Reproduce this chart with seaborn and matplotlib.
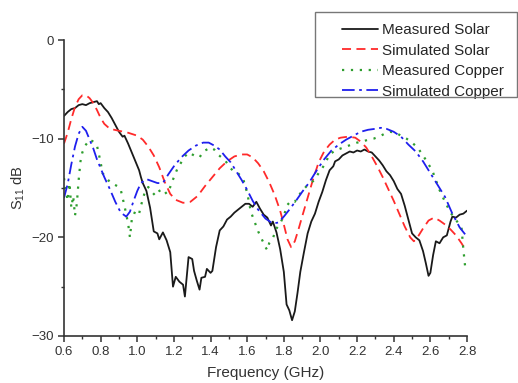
import numpy as np
import pandas as pd
import matplotlib
matplotlib.use('Agg')
import matplotlib.pyplot as plt
from matplotlib.ticker import MultipleLocator
from matplotlib.patches import Rectangle
import seaborn as sns

# Measured Solar (black solid, noisy)
ms_freq = [0.60, 0.62, 0.64, 0.66, 0.68, 0.70, 0.72, 0.74, 0.76, 0.78, 0.79, 0.80,
           0.82, 0.84, 0.86, 0.88, 0.90, 0.92, 0.93, 0.95, 0.97, 0.99, 1.01, 1.02,
           1.03, 1.05, 1.07, 1.09, 1.11, 1.12, 1.14, 1.16, 1.18, 1.195, 1.21, 1.23,
           1.25, 1.26, 1.27, 1.28, 1.30, 1.31, 1.325, 1.34, 1.35, 1.37, 1.38, 1.40,
           1.41, 1.43, 1.45, 1.47, 1.49, 1.51, 1.53, 1.55, 1.57, 1.59, 1.61, 1.63,
           1.65, 1.67, 1.69, 1.71, 1.73, 1.74, 1.76, 1.78, 1.80, 1.815, 1.83, 1.845,
           1.86, 1.875, 1.89, 1.91, 1.93, 1.95, 1.97, 1.99, 2.01, 2.03, 2.05, 2.07,
           2.08, 2.10, 2.12, 2.14, 2.16, 2.18, 2.20, 2.22, 2.24, 2.26, 2.28, 2.30,
           2.32, 2.34, 2.36, 2.38, 2.40, 2.42, 2.44, 2.46, 2.48, 2.50, 2.52, 2.54,
           2.56, 2.575, 2.59, 2.60, 2.615, 2.63, 2.65, 2.67, 2.69, 2.71, 2.72, 2.74,
           2.76, 2.78, 2.80]
ms_s11 = [-7.7, -7.3, -7.0, -6.9, -6.6, -6.5, -6.6, -6.4, -6.3, -6.2, -6.5, -6.4,
          -6.9, -7.3, -7.9, -8.6, -9.3, -9.8, -9.7, -10.5, -11.4, -12.3, -13.2, -13.9,
          -14.5, -15.3, -17.0, -19.4, -19.6, -20.2, -19.5, -20.3, -21.5, -25.0, -24.0, -24.5,
          -24.8, -26.0, -24.0, -22.0, -22.2, -23.4, -24.4, -25.3, -24.1, -24.0, -23.2, -23.6,
          -23.4, -21.0, -19.3, -18.9, -18.2, -17.9, -17.5, -17.2, -16.9, -16.6, -16.6, -16.9,
          -16.4, -17.1, -17.7, -18.0, -18.8, -18.4, -19.5, -21.2, -23.5, -26.8, -27.4, -28.4,
          -27.5, -25.6, -23.5, -21.5, -19.6, -18.4, -17.6, -16.4, -15.4, -14.2, -13.2, -12.8,
          -12.3, -12.1, -11.7, -11.5, -11.3, -11.4, -11.2, -11.3, -11.1, -11.3, -11.4, -11.8,
          -12.2, -12.7, -13.3, -13.7, -14.3, -15.1, -15.6, -16.8, -18.2, -19.6, -20.0, -20.3,
          -21.4, -22.6, -23.9, -23.6, -21.8, -20.4, -20.6, -20.0, -19.8, -18.4, -17.9, -18.0,
          -17.7, -17.6, -17.3]

# Simulated Solar (red dashed)
ss_freq = [0.60, 0.62, 0.64, 0.66, 0.68, 0.70, 0.72, 0.74, 0.76, 0.78, 0.80, 0.82,
           0.85, 0.90, 0.95, 1.00, 1.03, 1.06, 1.09, 1.12, 1.15, 1.18, 1.21, 1.25,
           1.29, 1.33, 1.37, 1.41, 1.45, 1.49, 1.53, 1.57, 1.60, 1.63, 1.66, 1.69,
           1.72, 1.75, 1.78, 1.80, 1.82, 1.84, 1.86, 1.88, 1.90, 1.93, 1.96, 1.99,
           2.02, 2.05, 2.08, 2.11, 2.15, 2.19, 2.22, 2.25, 2.28, 2.31, 2.34, 2.37,
           2.40, 2.43, 2.46, 2.49, 2.51, 2.53, 2.56, 2.59, 2.62, 2.65, 2.68, 2.71,
           2.74, 2.77, 2.79]
ss_s11 = [-10.5, -9.4, -8.0, -6.8, -6.0, -5.6, -5.6, -5.9, -6.4, -7.1, -7.9, -8.5,
          -9.0, -9.2, -9.4, -9.7, -10.1, -10.8, -11.7, -12.9, -14.4, -15.6, -16.2, -16.5,
          -16.4, -15.8, -14.8, -13.9, -13.0, -12.3, -11.8, -11.6, -11.6, -11.9, -12.5, -13.3,
          -14.4, -15.7, -17.3, -18.7, -20.2, -21.0, -20.4, -19.2, -17.9, -16.0, -14.1, -12.4,
          -11.3, -10.6, -10.1, -9.9, -9.8, -9.9, -10.3, -10.9, -11.8, -12.8, -13.9, -15.1,
          -16.3, -17.6, -18.9, -20.0, -20.4, -20.0, -19.1, -18.3, -18.0, -18.3, -18.7, -19.2,
          -19.8, -20.6, -21.2]

# Measured Copper (green dotted, noisy)
mc_freq = [0.60, 0.61, 0.62, 0.63, 0.64, 0.65, 0.66, 0.67, 0.68, 0.69, 0.70, 0.72,
           0.74, 0.76, 0.78, 0.80, 0.81, 0.83, 0.85, 0.87, 0.89, 0.91, 0.93, 0.95,
           0.96, 0.97, 0.99, 1.01, 1.02, 1.04, 1.06, 1.08, 1.10, 1.12, 1.14, 1.16,
           1.18, 1.20, 1.22, 1.24, 1.26, 1.28, 1.30, 1.32, 1.34, 1.36, 1.38, 1.40,
           1.42, 1.44, 1.46, 1.48, 1.50, 1.52, 1.54, 1.56, 1.58, 1.60, 1.62, 1.64,
           1.66, 1.68, 1.70, 1.71, 1.72, 1.74, 1.76, 1.78, 1.80, 1.82, 1.84, 1.86,
           1.88, 1.90, 1.93, 1.96, 1.99, 2.02, 2.05, 2.08, 2.11, 2.14, 2.17, 2.20,
           2.23, 2.26, 2.29, 2.32, 2.35, 2.38, 2.41, 2.44, 2.47, 2.50, 2.53, 2.56,
           2.59, 2.61, 2.63, 2.65, 2.68, 2.71, 2.73, 2.75, 2.77, 2.78, 2.79]
mc_s11 = [-14.0, -15.2, -16.3, -14.5, -17.0, -15.8, -17.8, -16.6, -14.2, -12.3, -11.4, -10.6,
          -10.1, -10.3, -10.7, -12.4, -13.5, -13.9, -14.4, -14.6, -14.8, -15.2, -16.8, -18.6,
          -20.0, -18.2, -17.3, -17.6, -16.8, -15.5, -14.9, -15.4, -15.8, -15.3, -15.1, -15.6,
          -14.9, -13.9, -13.0, -12.4, -11.8, -11.4, -11.6, -11.8, -11.9, -11.3, -11.1, -10.9,
          -11.1, -11.6, -11.9, -12.2, -12.8, -13.2, -13.3, -13.7, -14.2, -15.5, -17.4, -18.4,
          -19.4, -20.2, -21.0, -21.3, -20.6, -20.1, -19.1, -18.6, -17.8, -16.7, -16.3, -16.4,
          -15.8, -15.3, -14.7, -14.3, -13.5, -12.7, -11.6, -11.2, -11.0, -10.8, -10.6, -10.4,
          -10.3, -10.1, -10.0, -9.8, -9.5, -9.3, -9.4, -9.7, -10.0, -10.4, -10.9, -11.7,
          -12.6, -13.2, -14.2, -15.2, -16.4, -17.5, -18.0, -18.5, -19.0, -21.2, -23.0]

# Simulated Copper (blue dash-dot)
sc_freq = [0.60, 0.62, 0.64, 0.66, 0.68, 0.70, 0.72, 0.74, 0.76, 0.78, 0.80, 0.82,
           0.85, 0.88, 0.91, 0.94, 0.96, 0.98, 1.00, 1.02, 1.05, 1.08, 1.11, 1.14,
           1.17, 1.20, 1.24, 1.28, 1.32, 1.36, 1.39, 1.42, 1.45, 1.48, 1.51, 1.54,
           1.57, 1.60, 1.63, 1.66, 1.70, 1.74, 1.77, 1.80, 1.83, 1.87, 1.90, 1.94,
           1.98, 2.02, 2.06, 2.10, 2.14, 2.18, 2.22, 2.26, 2.30, 2.33, 2.36, 2.40,
           2.44, 2.48, 2.52, 2.56, 2.60, 2.64, 2.68, 2.72, 2.76, 2.79]
sc_s11 = [-16.0, -14.6, -12.6, -10.8, -9.5, -8.8, -9.2, -10.1, -11.0, -12.1, -13.0, -13.9,
          -15.1, -16.4, -17.5, -17.9, -17.4, -16.3, -15.3, -14.5, -14.1, -14.3, -14.5, -14.5,
          -13.6, -12.8, -11.9, -11.2, -10.7, -10.4, -10.4, -10.7, -11.1, -11.8, -12.4, -13.3,
          -14.2, -15.2, -16.3, -17.2, -18.1, -18.6, -18.5, -17.9, -17.2, -16.2, -15.4, -14.4,
          -13.2, -12.1, -11.2, -10.6, -10.1, -9.7, -9.3, -9.1, -9.0, -8.9, -9.0, -9.3,
          -9.8, -10.6, -11.3, -12.3, -13.5, -14.7, -15.9, -17.6, -19.0, -19.7]

series_names = ['Measured Solar', 'Simulated Solar', 'Measured Copper', 'Simulated Copper']
series_data = [(ms_freq, ms_s11), (ss_freq, ss_s11), (mc_freq, mc_s11), (sc_freq, sc_s11)]
colors = ['#1a1a1a', '#ff2a2a', '#2e9e2e', '#1f1fee']
styles = ['-', (0, (5, 3)), (0, (1, 3)), (0, (7, 2.5, 1.5, 2.5))]
widths = [1.3, 1.3, 1.6, 1.3]

sns.set_style('ticks')
plt.rcParams['font.family'] = ['Liberation Sans', 'DejaVu Sans']
plt.rcParams['mathtext.fontset'] = 'custom'
plt.rcParams['mathtext.rm'] = 'Liberation Sans'
plt.rcParams['mathtext.it'] = 'Liberation Sans'

fig = plt.figure(figsize=(5.18, 3.83), dpi=100)
ax = fig.add_axes([64 / 518, 1 - 336 / 383, (467 - 64) / 518, (336 - 40) / 383])

for name, (f, s), c, ls, lw in zip(series_names, series_data, colors, styles, widths):
    df = pd.DataFrame({'Frequency': f, 'S11': s})
    sns.lineplot(data=df, x='Frequency', y='S11', ax=ax, color=c, linestyle=ls,
                 linewidth=lw, label=name, estimator=None, sort=False)

ax.set_xlim(0.6, 2.8)
ax.set_ylim(-30, 0)
ax.xaxis.set_major_locator(MultipleLocator(0.2))
ax.xaxis.set_minor_locator(MultipleLocator(0.1))
ax.yaxis.set_major_locator(MultipleLocator(10))
ax.yaxis.set_minor_locator(MultipleLocator(5))
ax.set_xticklabels([f'{v:.1f}' for v in ax.get_xticks()])

axis_col = '#333333'
for side in ['top', 'right']:
    ax.spines[side].set_visible(False)
for side in ['left', 'bottom']:
    ax.spines[side].set_color(axis_col)
    ax.spines[side].set_linewidth(1.2)
ax.tick_params(which='major', direction='out', length=4, width=1.1, colors=axis_col,
               labelsize=9.5, pad=3)
ax.tick_params(which='minor', direction='out', length=2.5, width=1.0, colors=axis_col)

ax.set_xlabel('Frequency (GHz)', fontsize=11, color=axis_col, labelpad=6)
ax.set_ylabel('S$_{11}$ dB', fontsize=10.5, color=axis_col, labelpad=3)

# legend entries without frame, box drawn separately (it runs to the image edge)
leg = ax.legend(loc='upper left', bbox_to_anchor=(342 / 518, 1 - 23 / 383),
                bbox_transform=fig.transFigure, fontsize=11, frameon=False,
                handlelength=2.35, handletextpad=0.3, labelspacing=0.43,
                borderpad=0, borderaxespad=0)
fig.add_artist(Rectangle((315 / 518, 1 - 97 / 383), (517 - 315) / 518, 85 / 383,
                         transform=fig.transFigure, fill=False,
                         edgecolor='#777777', linewidth=1.0))

fig.savefig('out.png', dpi=100)
